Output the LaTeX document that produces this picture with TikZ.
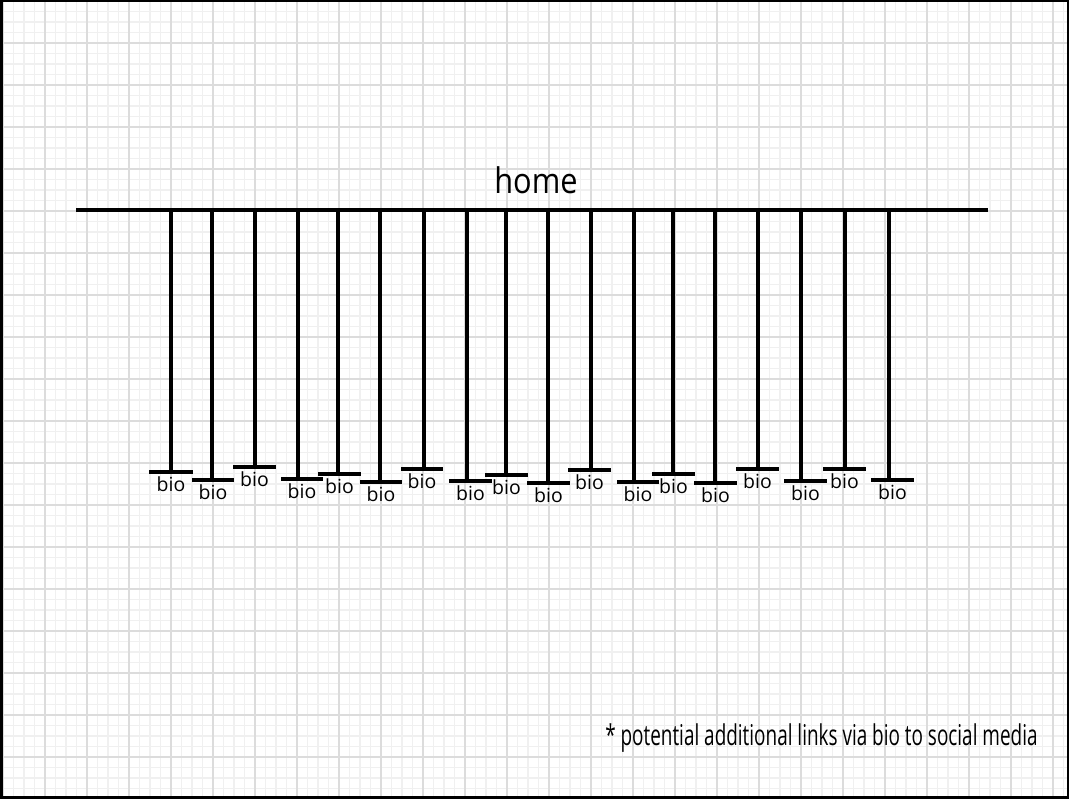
\documentclass[tikz,border=0pt]{standalone}
\usepackage{fontspec}
\setmainfont{Open Sans}
\newfontfamily\homefont[FakeStretch=0.87]{Open Sans}
\newfontfamily\notefont[FakeStretch=0.66]{Open Sans}
\usetikzlibrary{positioning}
\definecolor{gminor}{HTML}{F0F0F0}
\definecolor{gmajor}{HTML}{DCDCDC}

\begin{document}
\begin{tikzpicture}[
  x=0.75pt, y=-0.75pt,
  minor/.style={gminor, line width=1.4pt},
  major/.style={gmajor, line width=1.5pt},
  link/.style={line width=3pt, black},
  bar/.style={line width=3pt, black},
  title/.style={font=\homefont\fontsize{26.5}{28}\selectfont, inner sep=0pt, anchor=base},
  bio/.style={font=\fontsize{14.6}{15}\selectfont, inner sep=0pt, anchor=north},
  note/.style={font=\notefont\fontsize{21.5}{23}\selectfont, inner sep=0pt, anchor=base west}
]
\useasboundingbox (0,0) rectangle (1070,800);
\fill[white] (0,0) rectangle (1070,800);

% grid paper
\foreach \gx in {3,13.5,...,1067} \draw[minor] (\gx,1) -- (\gx,797);
\foreach \gy in {1,11.5,...,797} \draw[minor] (3,\gy) -- (1067,\gy);
\foreach \gx in {3,45,...,1067} \draw[major] (\gx,1) -- (\gx,797);
\foreach \gy in {1,43,...,797} \draw[major] (3,\gy) -- (1067,\gy);
\draw[line width=2.2pt] (1.5,1) rectangle (1068,797.5);

% home
\node[title] (home) at (536,193) {home};
\coordinate (hl) at (76,210);
\coordinate (hr) at (988,210);
\draw[link] (hl) -- (hr);

% bios (x of drop / bar from / bar to / bar y)
\foreach \i/\x/\a/\b/\y in {
  1/171/149/193/472, 2/212/192/234/480, 3/255/233/276/467,
  4/298/281/323/479, 5/338/318/361/474, 6/380/360/402/482,
  7/424/401/443/469, 8/467/449/492/481, 9/506/485/528/475,
  10/548/527/570/483, 11/591/568/611/470, 12/634/617/659/482,
  13/673/652/695/474, 14/715/694/737/483, 15/758/736/779/469,
  16/801/784/827/481, 17/845/823/866/469, 18/889/871/914/480} {
  \coordinate (t\i) at (\x,210);
  \coordinate (b\i) at (\x,\y);
  \draw[link] (t\i) -- (b\i);
  \draw[bar] (\a,\y) -- (\b,\y);
  \node[bio] (bio\i) at ({(\a+\b)/2},\y+4.5) {bio};
}

\node[note] (note) at (605,745) {* potential additional links via bio to social media};
\end{tikzpicture}
\end{document}
